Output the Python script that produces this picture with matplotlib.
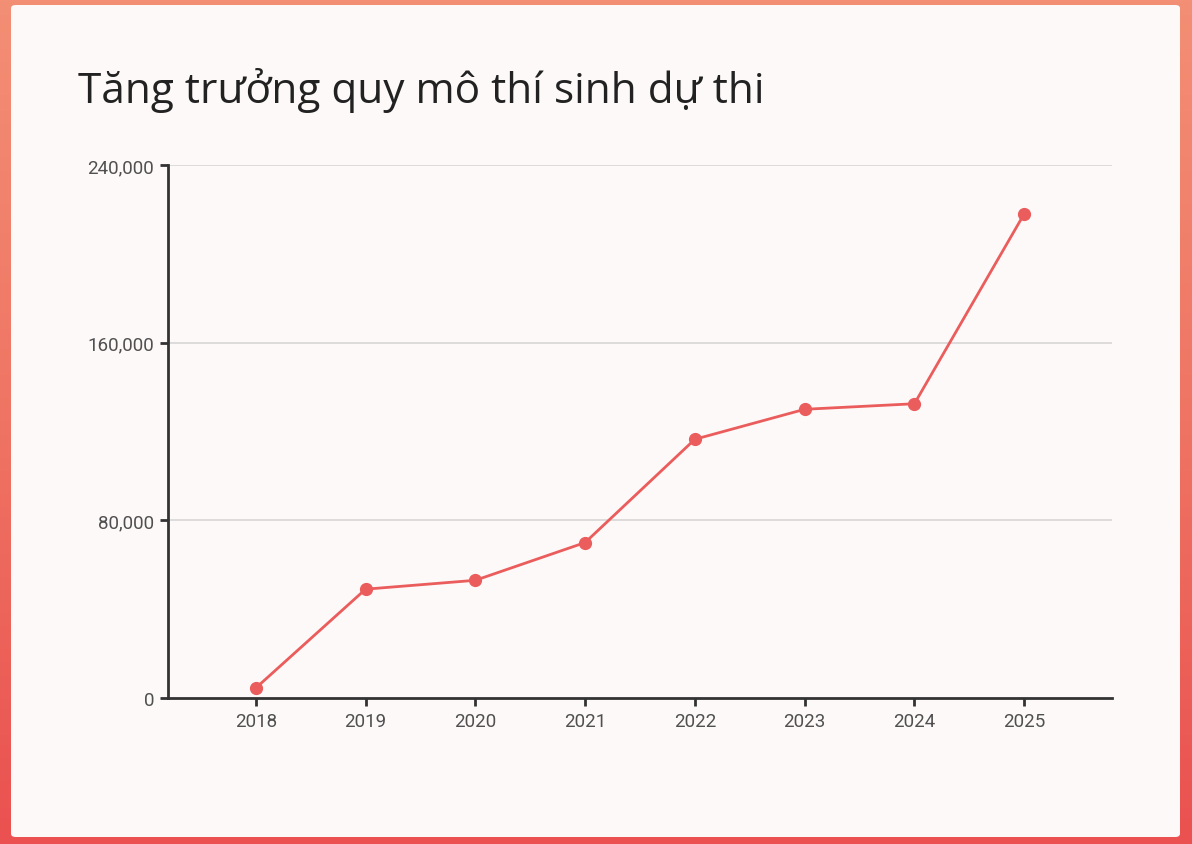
import numpy as np
import matplotlib
matplotlib.use("Agg")
import matplotlib.pyplot as plt
from matplotlib.patches import FancyBboxPatch
from matplotlib.ticker import FuncFormatter

years = [2018, 2019, 2020, 2021, 2022, 2023, 2024, 2025]
candidates = [4500, 49000, 53000, 70000, 116500, 130000, 132500, 218000]
y_ticks = [0, 80000, 160000, 240000]
title = "Tăng trưởng quy mô thí sinh dự thi"

line_color = "#ea5d5c"
axis_color = "#333333"
text_color = "#505050"

fig = plt.figure(figsize=(11.92, 8.45), dpi=100)

# gradient background behind the card
bg = fig.add_axes([0, 0, 1, 1], zorder=0)
grad = np.linspace(0, 1, 256).reshape(-1, 1)
cmap = matplotlib.colors.LinearSegmentedColormap.from_list(
    "bg", ["#f38f74", "#ef7463", "#ea5150"])
bg.imshow(grad, aspect="auto", cmap=cmap, extent=[0, 1, 0, 1], origin="upper")
bg.set_xlim(0, 1)
bg.set_ylim(0, 1)
bg.axis("off")

card = FancyBboxPatch((11 / 1192, 7 / 845), 1169 / 1192, 832 / 845,
                      boxstyle="round,pad=0,rounding_size=0.004",
                      transform=fig.transFigure, facecolor="#fdf9f8",
                      edgecolor="none", zorder=1)
bg.add_patch(card)

fig.text(78 / 1192, 1 - 103 / 845, title, fontsize=30.5, family="Open Sans",
         color="#222222", ha="left", va="baseline")

ax = fig.add_axes([168 / 1192, 146 / 845, 944 / 1192, 533 / 845], zorder=2)
ax.patch.set_alpha(0)

ax.plot(years, candidates, color=line_color, lw=2, marker="o", ms=8.5,
        zorder=3, clip_on=False)

ax.set_xlim(2017.2, 2025.8)
ax.set_ylim(0, 240000)
ax.set_xticks(years)
ax.set_yticks(y_ticks)
ax.yaxis.set_major_formatter(FuncFormatter(lambda v, p: f"{int(v):,}"))

for v in y_ticks[1:]:
    ax.axhline(v, color="#d8d6d6", lw=1.2, zorder=1)

for s in ["top", "right"]:
    ax.spines[s].set_visible(False)
for s in ["left", "bottom"]:
    ax.spines[s].set_color(axis_color)
    ax.spines[s].set_linewidth(2)

ax.tick_params(axis="both", length=6, width=2, color=axis_color,
               labelcolor=text_color, labelsize=13.5, pad=4)
for lab in ax.get_xticklabels() + ax.get_yticklabels():
    lab.set_family("Roboto")

fig.savefig("out.png", dpi=100)
